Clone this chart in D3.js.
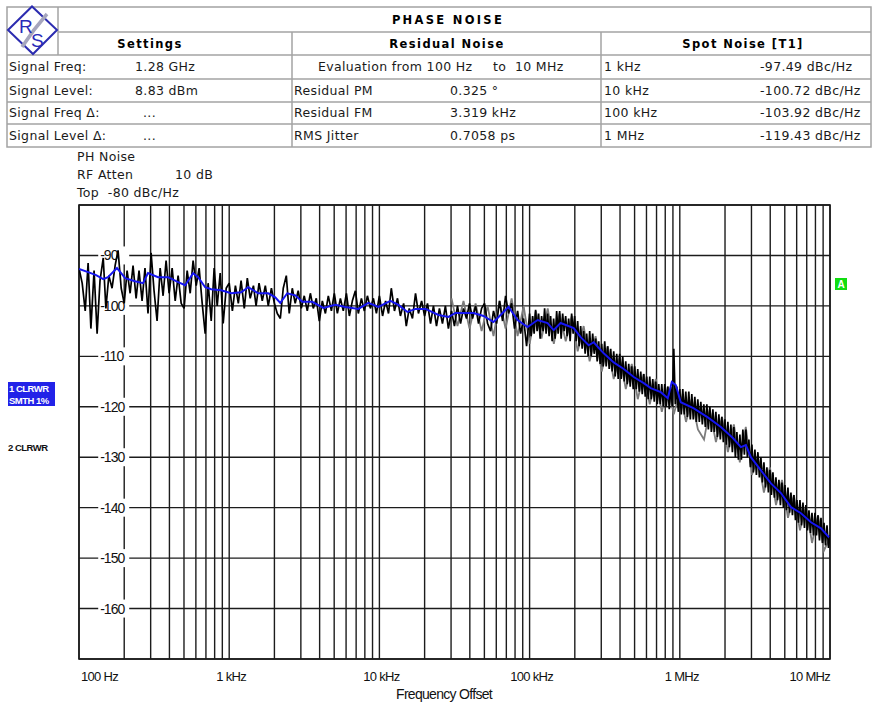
<!DOCTYPE html>
<html><head><meta charset="utf-8">
<script src="https://cdn.jsdelivr.net/npm/d3@7"></script>
<style>
body{margin:0;background:#fff}
svg{display:block}
</style></head><body>
<svg id="c" width="875" height="702"></svg>
<script>
// ---------- header table texts ----------
const tableTitle = "PHASE NOISE";
const columnHeaders = ["Settings", "Residual Noise", "Spot Noise [T1]"];
const settingsLabels = ["Signal Freq:", "Signal Level:", "Signal Freq \u0394:", "Signal Level \u0394:"];
const settingsValues = ["1.28 GHz", "8.83 dBm", "...", "..."];
const residualLabels = ["Evaluation from 100 Hz", "Residual PM", "Residual FM", "RMS Jitter"];
const residualValues = ["to  10 MHz", "0.325 \u00b0", "3.319 kHz", "0.7058 ps"];
const spotOffsets = ["1 kHz", "10 kHz", "100 kHz", "1 MHz"];
const spotValues = ["-97.49 dBc/Hz", "-100.72 dBc/Hz", "-103.92 dBc/Hz", "-119.43 dBc/Hz"];
const infoLines = ["PH Noise", "RF Atten", "Top  -80 dBc/Hz"];
const infoAtten = "10 dB";
const traceLabels = ["1 CLRWR", "SMTH 1%", "2 CLRWR"];

// ---------- axes ----------
const xDomain = [100, 1e7];
const yDomain = [-170, -80];
const xTickValues = [100, 1e3, 1e4, 1e5, 1e6, 1e7];
const xTickLabels = ["100 Hz", "1 kHz", "10 kHz", "100 kHz", "1 MHz", "10 MHz"];
const yTickValues = [-90, -100, -110, -120, -130, -140, -150, -160];
const xTitle = "Frequency Offset";

// ---------- trace 1 raw (black) ----------
// 50 sweep points per decade below 100 kHz
const sweepMantissa = [1.00,1.05,1.10,1.15,1.20,1.26,1.32,1.38,1.45,1.51,
  1.58,1.66,1.74,1.82,1.91,2.00,2.09,2.19,2.29,2.40,
  2.51,2.63,2.75,2.88,3.02,3.16,3.31,3.47,3.63,3.80,
  3.98,4.17,4.37,4.57,4.79,5.01,5.25,5.50,5.75,6.03,
  6.31,6.61,6.92,7.24,7.59,7.94,8.32,8.71,9.12,9.55];
// 100 sweep points per decade above 100 kHz
const sweepMantissaFine = [1.000,1.023,1.047,1.072,1.096,1.122,1.148,1.175,1.202,1.230,
  1.259,1.288,1.318,1.349,1.380,1.413,1.445,1.479,1.514,1.549,
  1.585,1.622,1.660,1.698,1.738,1.778,1.820,1.862,1.905,1.950,
  1.995,2.042,2.089,2.138,2.188,2.239,2.291,2.344,2.399,2.455,
  2.512,2.570,2.630,2.692,2.754,2.818,2.884,2.951,3.020,3.090,
  3.162,3.236,3.311,3.388,3.467,3.548,3.631,3.715,3.802,3.890,
  3.981,4.074,4.169,4.266,4.365,4.467,4.571,4.677,4.786,4.898,
  5.012,5.129,5.248,5.370,5.495,5.623,5.754,5.888,6.026,6.166,
  6.310,6.457,6.607,6.761,6.918,7.079,7.244,7.413,7.586,7.762,
  7.943,8.128,8.318,8.511,8.710,8.913,9.120,9.333,9.550,9.772];
const rawLevel_100Hz = [-92.5,-95.5,-101.0,-91.5,-104.5,-93.0,-105.5,-95.0,-90.5,-100.5,
  -94.0,-96.5,-92.0,-89.0,-96.5,-99.5,-93.0,-97.5,-92.0,-98.5,
  -93.0,-99.0,-92.5,-101.5,-89.5,-97.0,-103.0,-92.5,-98.0,-91.0,
  -97.5,-92.5,-99.0,-94.0,-99.5,-100.5,-93.0,-97.5,-91.0,-96.0,
  -92.5,-99.5,-105.5,-95.5,-103.0,-92.5,-100.0,-93.5,-103.5,-96.5];
const rawLevel_1kHz = [-95.5,-101.0,-96.0,-99.5,-95.0,-100.5,-94.5,-98.5,-96.0,-100.0,
  -95.5,-99.0,-96.0,-100.0,-96.5,-99.5,-101.5,-102.5,-96.5,-94.0,
  -101.5,-96.5,-99.5,-97.0,-100.5,-98.0,-101.0,-97.5,-100.5,-98.5,
  -103.0,-99.0,-101.5,-98.0,-101.0,-97.5,-101.5,-98.5,-101.0,-97.5,
  -102.0,-99.0,-97.0,-101.5,-98.5,-101.0,-98.0,-100.5,-98.5,-101.5];
const rawLevel_10kHz = [-98.0,-102.0,-99.0,-101.5,-96.5,-101.0,-98.5,-102.0,-99.5,-104.0,
  -100.5,-102.5,-97.5,-101.5,-99.0,-102.0,-99.5,-103.5,-100.0,-104.0,
  -100.5,-103.5,-100.0,-104.5,-101.0,-104.0,-100.0,-103.5,-100.5,-102.5,
  -99.5,-102.5,-100.0,-103.5,-100.5,-99.5,-103.5,-105.0,-101.0,-103.5,
  -99.0,-103.0,-98.0,-101.5,-99.5,-104.5,-101.0,-105.5,-102.5,-108.0];
const rawLevel_100kHz = [-101.5,-106.0,-102.0,-105.5,-100.8,-105.0,-101.5,-106.5,-102.0,-105.0,
  -100.5,-105.5,-101.5,-106.0,-102.0,-107.0,-102.5,-106.5,-101.0,-105.5,
  -101.0,-106.5,-101.5,-105.0,-102.0,-106.0,-102.5,-107.0,-101.5,-105.5,
  -102.0,-107.0,-103.0,-108.0,-104.0,-108.5,-105.0,-109.5,-105.5,-110.0,
  -105.0,-110.0,-105.5,-109.5,-106.5,-111.0,-107.0,-111.5,-107.5,-112.0,
  -107.0,-112.0,-108.0,-112.5,-108.5,-113.0,-109.0,-114.0,-109.5,-114.5,
  -109.5,-114.5,-110.0,-115.0,-111.0,-115.5,-111.5,-116.0,-112.0,-116.5,
  -112.0,-116.5,-112.5,-117.0,-113.0,-117.5,-113.5,-118.0,-114.0,-118.5,
  -114.0,-118.5,-114.5,-119.0,-115.0,-119.5,-115.5,-119.5,-115.5,-120.0,
  -115.5,-120.0,-116.0,-120.5,-116.0,-120.0,-108.5,-119.5,-116.0,-121.0];
const rawLevel_1MHz = [-116.5,-121.5,-116.5,-121.5,-117.0,-122.0,-117.0,-122.5,-117.5,-122.5,
  -118.0,-123.0,-118.5,-123.0,-119.0,-123.5,-119.5,-124.0,-119.5,-124.5,
  -120.0,-125.0,-120.5,-125.0,-121.0,-126.0,-121.5,-126.5,-122.0,-127.0,
  -122.5,-127.5,-123.0,-128.0,-123.5,-129.0,-124.0,-130.0,-125.0,-130.5,
  -125.5,-130.5,-124.5,-129.5,-124.5,-130.0,-126.5,-132.0,-127.5,-133.0,
  -128.5,-133.5,-129.0,-134.0,-130.0,-135.0,-131.0,-136.0,-132.0,-137.0,
  -132.5,-137.5,-133.0,-138.0,-134.0,-138.5,-134.5,-139.5,-135.0,-140.0,
  -135.5,-140.5,-136.0,-141.0,-137.0,-141.5,-137.5,-142.5,-138.5,-143.0,
  -138.5,-143.5,-139.0,-144.0,-139.5,-144.5,-140.5,-145.0,-141.0,-145.5,
  -141.0,-145.5,-141.5,-146.5,-142.0,-147.0,-143.0,-147.5,-143.5,-148.0];
const rawLevel_10MHz = [-145.5];

// ---------- trace 1 smoothed (blue) ----------
const smoothFreq = [100,115,130,145,156,179,203,236,267,288,336,392,457,509,575,621,692,759,885,1031,
  1202,1339,1561,1820,2026,2188,2436,2754,3067,3575,4235,5090,5933,7244,8446,9847,11840,13390,15370,17380,
  20260,24740,28840,32120,37440,42340,49360,57540,64090,72440,83180,96980,113100,131800,144500,160900,196500,218800,247400,267100,
  311500,363100,423500,493600,575400,641000,747100,831800,884600,940400,1015000,1240000,1537000,1877000,2256000,2551000,2754000,2973000,3467000,4043000,
  4713000,5495000,6408000,7471000,8710000,9847000];
const smoothLevel = [-92.7,-93.3,-93.9,-94.7,-94.3,-92.5,-94.5,-95.1,-95.5,-93.5,-94.3,-94.3,-95.3,-95.9,-93.5,-94.3,-96.3,-96.7,-96.9,-97.5,
  -97.3,-96.3,-97.5,-97.5,-98.3,-99.4,-97.5,-97.9,-99.2,-99.2,-100.4,-99.8,-100.2,-100.6,-99.4,-100.2,-99.0,-99.8,-101.2,-100.6,
  -100.6,-101.8,-102.2,-101.4,-101.4,-101.4,-102.0,-103.2,-101.8,-100.2,-102.8,-104.2,-102.8,-103.4,-104.8,-103.4,-104.4,-106.2,-107.8,-107.2,
  -109.4,-111.2,-112.5,-114.1,-115.3,-116.3,-117.1,-118.3,-115.1,-115.7,-119.1,-120.3,-122.1,-124.0,-126.2,-128.0,-127.6,-130.0,-132.6,-135.2,
  -137.1,-139.9,-141.1,-142.9,-144.1,-145.9];

// ---------- trace 2 (gray) ----------
const grayFreq = [30200,33100,36300,39800,43700,47900,52500,57500,63100,69200,75900,83200,91200,
  100000,110000,120000,132000,145000,158000,174000,191000,209000,229000,251000,275000,302000,331000,363000,398000,437000,479000,525000,575000,631000,692000,759000,832000,912000,
  1000000,1100000,1200000,1320000,1450000,1580000,1740000,1910000,2090000,2290000,2510000,2750000,3020000,3310000,3630000,3980000,4370000,4790000,5250000,5750000,6310000,6920000,7590000,8320000,9120000,10000000];
const grayLevel = [-98.5,-104.0,-99.0,-104.5,-99.5,-105.0,-100.0,-106.0,-99.0,-104.5,-98.5,-106.0,-100.0,
  -107.5,-101.0,-106.5,-100.5,-107.5,-101.5,-107.0,-102.0,-109.0,-104.0,-111.0,-106.0,-113.0,-108.0,-114.5,-110.0,-116.5,-111.5,-118.5,-113.5,-119.5,-114.5,-121.0,-116.0,-121.5,
  -117.0,-123.0,-118.5,-124.5,-126.5,-120.5,-127.0,-122.0,-129.0,-123.5,-131.0,-124.0,-133.5,-130.0,-137.0,-132.0,-139.5,-134.5,-142.0,-137.5,-144.5,-139.5,-147.0,-141.5,-148.5,-146.0];

// =================================================================
const svg = d3.select("#c");
const VF = "'DejaVu Sans', Verdana, sans-serif";
const AF = "'Liberation Sans', Arial, sans-serif";

// ---------- header table ----------
const T = {l: 7, r: 871, t: 7, logoR: 58, rows: [7, 32, 55, 79, 102, 124, 147], cols: [7, 292, 601, 871]};
const tg = svg.append("g");
const gridCol = "#a3a3a3";
tg.append("rect").attr("x", T.l).attr("y", T.t).attr("width", T.r - T.l).attr("height", T.rows[6] - T.t)
  .attr("fill", "none").attr("stroke", gridCol).attr("stroke-width", 1.5);
tg.append("line").attr("x1", T.logoR).attr("x2", T.r).attr("y1", T.rows[1]).attr("y2", T.rows[1]).attr("stroke", gridCol).attr("stroke-width", 1.5);
T.rows.slice(2, 6).forEach(yy => tg.append("line").attr("x1", T.l).attr("x2", T.r).attr("y1", yy).attr("y2", yy).attr("stroke", gridCol).attr("stroke-width", 1.5));
tg.append("line").attr("x1", T.logoR).attr("x2", T.logoR).attr("y1", T.t).attr("y2", T.rows[2]).attr("stroke", gridCol).attr("stroke-width", 1.5);
[T.cols[1], T.cols[2]].forEach(xx => tg.append("line").attr("x1", xx).attr("x2", xx).attr("y1", T.rows[1]).attr("y2", T.rows[6]).attr("stroke", gridCol).attr("stroke-width", 1.5));

// logo
const lg = tg.append("g");
lg.append("path").attr("d", "M8,30 L32,6.5 L57,30 L33,54 Z").attr("fill", "#fff").attr("stroke", "#2c2cb0").attr("stroke-width", 2);
lg.append("path").attr("d", "M47,14 C40,22 33,30 22,47").attr("fill", "none").attr("stroke", "#a6a6bd").attr("stroke-width", 3.5);
lg.append("text").attr("x", 19).attr("y", 33).text("R").attr("font-family", AF).attr("font-size", 19).attr("fill", "#2a2ab8");
lg.append("text").attr("x", 31).attr("y", 47).text("S").attr("font-family", AF).attr("font-size", 19).attr("fill", "#2a2ab8");

tg.append("text").attr("x", 448).attr("y", 24).attr("text-anchor", "middle").text(tableTitle)
  .attr("font-family", VF).attr("font-size", 11.5).attr("font-weight", "bold").attr("letter-spacing", 2.3);
const hdrX = [150, 447, 743];
columnHeaders.forEach((h, i) => tg.append("text").attr("x", hdrX[i]).attr("y", 48).attr("text-anchor", "middle").text(h)
  .attr("font-family", VF).attr("font-size", 11.5).attr("font-weight", "bold").attr("letter-spacing", 1.4));

const rowBase = [71, 94.5, 117, 140];
function cell(txt, x, yy) {
  tg.append("text").attr("x", x).attr("y", yy).text(txt).attr("font-family", VF).attr("font-size", 12.5)
    .attr("letter-spacing", 0.35).attr("fill", "#1a1a1a").style("white-space", "pre");
}
rowBase.forEach((yy, i) => {
  cell(settingsLabels[i], 9, yy);
  cell(settingsValues[i], settingsValues[i] === "..." ? 143 : 135, yy);
  cell(residualLabels[i], i === 0 ? 318 : 294, yy);
  cell(residualValues[i], i === 0 ? 493 : 450, yy);
  cell(spotOffsets[i], 604, yy);
  cell(spotValues[i], 760, yy);
});

// info text above plot
const ig = svg.append("g").attr("font-family", VF).attr("font-size", 12.5).attr("letter-spacing", 0.35).attr("fill", "#1a1a1a");
[161, 179, 197].forEach((yy, i) => ig.append("text").attr("x", 77).attr("y", yy).style("white-space", "pre").text(infoLines[i]));
ig.append("text").attr("x", 175).attr("y", 179).text(infoAtten);

// ---------- plot ----------
const P = {l: 79, r: 830, t: 205, b: 659};
const x = d3.scaleLog().domain(xDomain).range([P.l, P.r]);
const y = d3.scaleLinear().domain(yDomain).range([P.b, P.t]);

const pg = svg.append("g");
const gridStroke = "#1c1c1c";
pg.selectAll("line.v").data(x.ticks()).join("line").attr("class", "v")
  .attr("x1", d => x(d)).attr("x2", d => x(d)).attr("y1", P.t).attr("y2", P.b)
  .attr("stroke", gridStroke).attr("stroke-width", 1.4);
pg.selectAll("line.h").data(y.ticks(9)).join("line").attr("class", "h")
  .attr("x1", P.l).attr("x2", P.r).attr("y1", d => y(d)).attr("y2", d => y(d))
  .attr("stroke", gridStroke).attr("stroke-width", 1.4);
pg.append("rect").attr("x", P.l).attr("y", P.t).attr("width", P.r - P.l).attr("height", P.b - P.t)
  .attr("fill", "none").attr("stroke", gridStroke).attr("stroke-width", 1.6);

// y labels with white background (breaking grid lines)
const yl = pg.append("g");
const labX = x(200) - 24;
yTickValues.forEach(v => {
  yl.append("rect").attr("x", labX - 2).attr("y", y(v) - 9).attr("width", 31).attr("height", 18).attr("fill", "#fff");
  yl.append("text").attr("x", labX).attr("y", y(v) + 5).text(String(v))
    .attr("font-family", AF).attr("font-size", 14).attr("letter-spacing", -1).attr("fill", "#111");
});

// traces
svg.append("clipPath").attr("id", "clip").append("rect").attr("x", P.l).attr("y", P.t).attr("width", P.r - P.l).attr("height", P.b - P.t);
const line = d3.line().x(d => x(d[0])).y(d => y(d[1]));
const rawPts = [];
[[100, rawLevel_100Hz, sweepMantissa], [1e3, rawLevel_1kHz, sweepMantissa], [1e4, rawLevel_10kHz, sweepMantissa],
 [1e5, rawLevel_100kHz, sweepMantissaFine], [1e6, rawLevel_1MHz, sweepMantissaFine]]
  .forEach(([d0, lv, mm]) => d3.zip(mm, lv).forEach(([m, v]) => rawPts.push([m * d0, v])));
rawPts.push([1e7, rawLevel_10MHz[0]]);
const grayPts = d3.zip(grayFreq, grayLevel);
const smoothPts = d3.zip(smoothFreq, smoothLevel);

const tr = svg.append("g").attr("clip-path", "url(#clip)");
tr.append("path").attr("d", line(grayPts)).attr("fill", "none").attr("stroke", "#7c7c7c").attr("stroke-width", 1.8);
tr.append("path").attr("d", line(rawPts)).attr("fill", "none").attr("stroke", "#000").attr("stroke-width", 1.7).attr("stroke-linejoin", "bevel");
tr.append("path").attr("d", line(smoothPts)).attr("fill", "none").attr("stroke", "#1515f0").attr("stroke-width", 2);

// x labels
const xg = svg.append("g").attr("font-family", AF).attr("font-size", 13).attr("letter-spacing", -0.7).attr("fill", "#111");
xTickValues.forEach((v, i) => {
  const last = i === xTickValues.length - 1;
  const first = i === 0;
  xg.append("text").attr("x", first ? x(v) + 2 : last ? x(v) : x(v) + 2).attr("y", 681)
    .attr("text-anchor", first ? "start" : last ? "end" : "middle").text(xTickLabels[i]);
});
xg.append("text").attr("x", 444).attr("y", 699).attr("text-anchor", "middle").attr("font-size", 14).text(xTitle);

// trace labels on the left
const lb = svg.append("g").attr("font-family", AF).attr("font-weight", "bold").attr("font-size", 9.5).attr("letter-spacing", -0.5);
lb.append("rect").attr("x", 8).attr("y", 382).attr("width", 47).attr("height", 24).attr("fill", "#2222e8");
lb.append("text").attr("x", 9).attr("y", 392).attr("fill", "#fff").text(traceLabels[0]);
lb.append("text").attr("x", 9).attr("y", 403.5).attr("fill", "#fff").text(traceLabels[1]);
lb.append("text").attr("x", 8).attr("y", 451).attr("fill", "#111").text(traceLabels[2]);

// marker "A"
svg.append("rect").attr("x", 835).attr("y", 278).attr("width", 12).attr("height", 12).attr("fill", "#11dd11");
svg.append("text").attr("x", 841).attr("y", 288).attr("text-anchor", "middle").text("A")
  .attr("font-family", AF).attr("font-size", 10).attr("font-weight", "bold").attr("fill", "#fff");
</script>
</body></html>
